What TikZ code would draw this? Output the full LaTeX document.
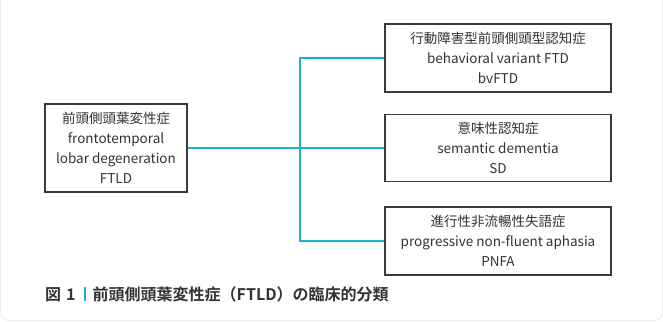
\documentclass[tikz,border=0pt]{standalone}
\usepackage{fontspec}
\setmainfont{Noto Sans CJK JP}
\newfontfamily\capfont{Noto Sans CJK JP}[BoldFont={Noto Sans CJK JP Bold}]
\definecolor{teal1}{HTML}{1FB1C9}
\definecolor{txt}{HTML}{333333}
\definecolor{boxline}{HTML}{3A3A3A}
\begin{document}
\begin{tikzpicture}[x=1pt,y=-1pt,
  box/.style={draw=boxline,line width=1.3pt,fill=white,align=center,text=txt,
    font=\fontsize{13.5}{20}\selectfont,inner sep=0pt},
  conn/.style={draw=teal1,line width=1.6pt}]
\useasboundingbox (0,0) rectangle (663,321);
\fill[white] (0,0) rectangle (663,321);
\begin{scope}
\clip (0,0) rectangle (663,321);
\draw[gray!15,line width=1pt,rounded corners=8pt] (0.5,-20) rectangle (662.5,320.5);
\end{scope}
\node[box,minimum width=142pt,minimum height=88pt] (ftld) at (116,148)
  {前頭側頭葉変性症\\frontotemporal\\lobar degeneration\\FTLD};
\node[box,minimum width=226pt,minimum height=68pt] (bv) at (498,58)
  {行動障害型前頭側頭型認知症\\behavioral variant FTD\\bvFTD};
\node[box,minimum width=226pt,minimum height=67pt] (sd) at (498,148)
  {意味性認知症\\semantic dementia\\SD};
\node[box,minimum width=226pt,minimum height=68pt] (pnfa) at (498,241)
  {進行性非流暢性失語症\\progressive non-fluent aphasia\\PNFA};
\coordinate (jx) at (300,0);
\draw[conn] (ftld.east) -- (sd.west);
\draw[conn] (bv.west) -- (bv.west -| jx) -- (pnfa.west -| jx) -- (pnfa.west);
\node[anchor=west,inner sep=0pt,text=txt,font=\capfont\bfseries\fontsize{16}{18}\selectfont] (cap) at (45,294)
  {図\hspace{5pt}1\hspace{8pt}\textcolor{teal1}{\rule[-1pt]{2pt}{14pt}}\hspace{7pt}前頭側頭葉変性症（FTLD）の臨床的分類};
\end{tikzpicture}
\end{document}
